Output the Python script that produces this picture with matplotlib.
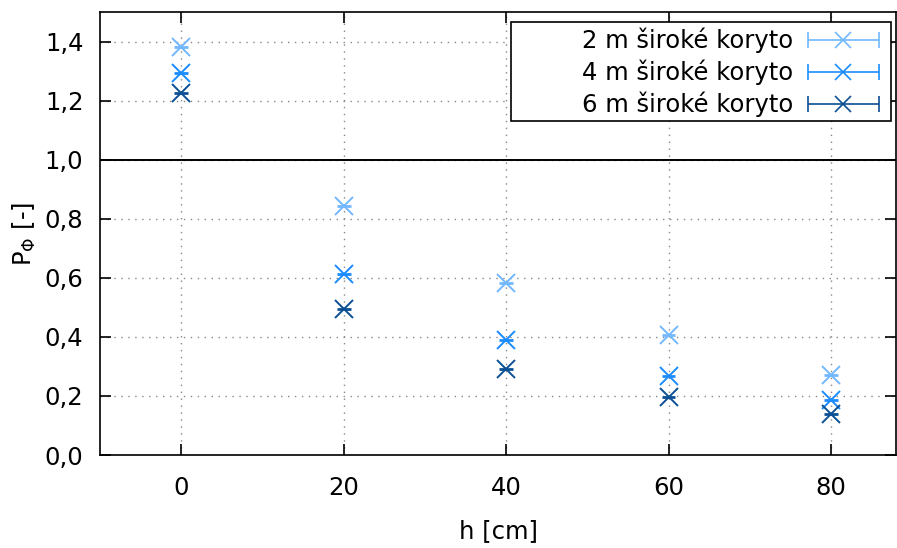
import numpy as np
import matplotlib
matplotlib.use('Agg')
from matplotlib import pyplot as plt
from matplotlib.ticker import FuncFormatter
from matplotlib.patches import Rectangle
from matplotlib.container import ErrorbarContainer
from matplotlib.legend_handler import HandlerErrorbar

# data
h = [0, 20, 40, 60, 80]
p_2m = [1.38, 0.843, 0.583, 0.406, 0.27]
p_4m = [1.293, 0.612, 0.389, 0.267, 0.186]
p_6m = [1.226, 0.495, 0.292, 0.196, 0.139]
h_err = 0.85

labels = ['2 m široké koryto', '4 m široké koryto', '6 m široké koryto']
colors = ['#72b8ff', '#1a8cff', '#0b4f94']
series = [p_2m, p_4m, p_6m]

plt.rcParams['font.family'] = ['DejaVu Sans']
plt.rcParams['font.size'] = 17.5

fig = plt.figure(figsize=(8.97, 5.48), dpi=100)
ax = fig.add_axes([0.1115, 0.1697, 0.8874, 0.8083])

handles = []
for vals, col, lab in zip(series, colors, labels):
    ax.errorbar(h, vals, xerr=h_err, fmt='x', color=col, ecolor=col,
                markersize=12.5, mew=1.4, elinewidth=2, capsize=0, zorder=3)
    # dummy with caps, only for the legend
    hd = ax.errorbar([np.nan], [np.nan], xerr=[1], fmt='x', color=col, ecolor=col,
                     markersize=12, mew=1.2, elinewidth=1.2, capsize=6, capthick=1.2,
                     label=lab)
    handles.append(hd)

ax.axhline(1.0, color='black', lw=1.4, zorder=2)

ax.set_xlim(-10, 88)
ax.set_ylim(0, 1.5)
ax.set_xticks(h)
ax.set_yticks(np.arange(0, 1.41, 0.2))
ax.yaxis.set_major_formatter(FuncFormatter(lambda v, p: ('%.1f' % v).replace('.', ',')))

ax.tick_params(direction='in', length=8, width=1.2, top=True, right=True)
ax.tick_params(axis='x', pad=15)
ax.tick_params(axis='y', pad=12)
ax.grid(True, linestyle=(0, (1, 4)), color='#888888', lw=1)
for s in ax.spines.values():
    s.set_linewidth(1.2)

ax.set_xlabel('h [cm]', labelpad=14)
ax.set_ylabel(r'P$_\Phi$ [-]', labelpad=4.5)

# key box, gnuplot style (wider than the entries)
ax.add_patch(Rectangle((0.516, 0.754), 0.478, 0.223, transform=ax.transAxes,
                       facecolor='white', edgecolor='black', lw=1.2, zorder=5))

leg = ax.legend(handles=handles, loc='upper right', bbox_to_anchor=(0.988, 0.981),
                markerfirst=False, frameon=False,
                handlelength=2.95, borderaxespad=0, labelspacing=0.27,
                handletextpad=0.6, borderpad=0.3,
                handler_map={ErrorbarContainer: HandlerErrorbar(xerr_size=1.45)})
leg.set_zorder(6)

fig.savefig('out.png', dpi=100)
